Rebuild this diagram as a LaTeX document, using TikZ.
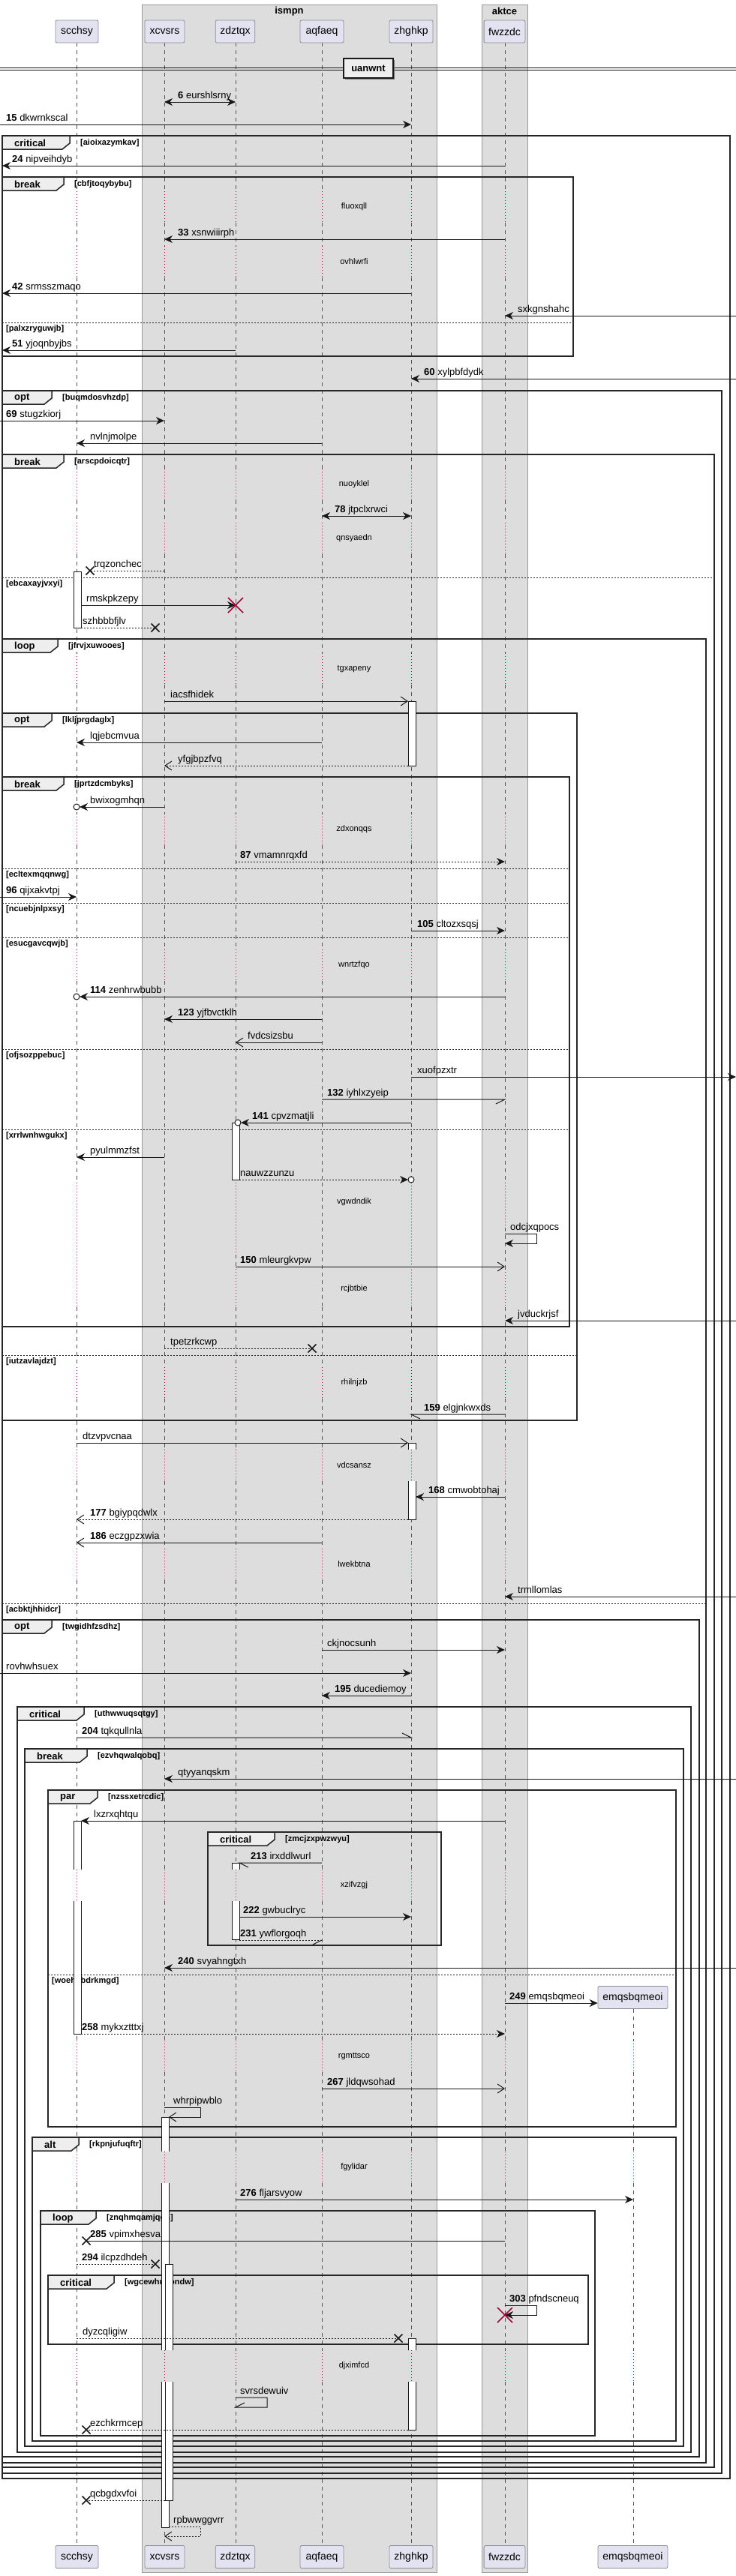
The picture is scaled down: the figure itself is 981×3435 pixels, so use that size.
\documentclass[tikz,border=0pt]{standalone}
\usepackage{fontspec}
\setmainfont{Liberation Sans}
\usetikzlibrary{arrows.meta}
\definecolor{partfill}{HTML}{E2E2F0}
\definecolor{partline}{HTML}{8C8C9A}
\definecolor{boxfill}{HTML}{DDDDDD}
\definecolor{boxline}{HTML}{9A9A9A}
\definecolor{tabfill}{HTML}{EEEEEE}
\definecolor{lifecol}{HTML}{555555}
\definecolor{delayred}{HTML}{A80036}
\definecolor{ink}{HTML}{181818}
\tikzset{
  part/.style={draw=partline, fill=partfill, rounded corners=2pt, minimum height=30pt, inner xsep=6pt, font=\fontsize{14}{16}\selectfont, line width=0.8pt},
  lbl/.style={anchor=base west, inner sep=0pt, font=\fontsize{13}{15}\selectfont},
  dly/.style={anchor=center, inner sep=0pt, font=\fontsize{11}{13}\selectfont},
  grd/.style={anchor=west, inner sep=0pt, font=\bfseries\fontsize{11}{13}\selectfont},
  tabtxt/.style={anchor=west, inner sep=0pt, font=\bfseries\fontsize{13}{15}\selectfont},
  msg/.style={draw=ink, line width=1pt},
  ret/.style={draw=ink, line width=1pt, dash pattern=on 2pt off 2pt},
  sa/.style={-{Stealth[length=11pt,width=10pt,inset=3.5pt]}},
  oa/.style={-{Straight Barb[length=9pt,width=12pt]}},
  ba/.style={{Stealth[length=11pt,width=10pt,inset=3.5pt]}-{Stealth[length=11pt,width=10pt,inset=3.5pt]}},
  frline/.style={draw=black!85, line width=1.5pt},
  elseline/.style={draw=black!85, line width=0.9pt, dash pattern=on 2pt off 2pt},
  lifel/.style={draw=lifecol, line width=0.7pt, dash pattern=on 5pt off 5pt},
  lifed/.style={draw=delayred, line width=0.8pt, dash pattern=on 1pt off 3pt},
  actst/.style={draw=ink, line width=1pt},
  xst/.style={draw=ink, line width=1.5pt},
  dst/.style={draw=delayred, line width=1.5pt},
}
\newcommand\mkframe[7]{%
  \draw[frline] (#1,#2) rectangle (#3,#4);
  \draw[frline, fill=tabfill] (#1,#2) -- (#1+#5,#2) -- (#1+#5,#2+10) -- (#1+#5-10,#2+18) -- (#1,#2+18) -- cycle;
  \node[tabtxt] at (#1+16,#2+10) {#6};
  \node[grd] at (#1+#5+14,#2+10) {[#7]};
}
\newcommand\elsesep[4]{%
  \draw[elseline] (#1,#3) -- (#2,#3);
  \node[grd] at (#1+5,#3+9) {[#4]};
}
\newcommand\xmk[2]{\draw[xst] (#1-5.5,#2-5.5) -- (#1+5.5,#2+5.5) (#1-5.5,#2+5.5) -- (#1+5.5,#2-5.5);}
\newcommand\dmk[2]{\draw[dst] (#1-10,#2-10) -- (#1+10,#2+10) (#1-10,#2+10) -- (#1+10,#2-10);}
\newcommand\cmk[2]{\draw[msg, fill=white] (#1,#2) circle[radius=4pt];}
\newcommand\actfull[3]{\draw[actst, fill=white] (#1-5,#2) rectangle (#1+5,#3);}
\newcommand\actupper[3]{\fill[white] (#1-5,#2) rectangle (#1+5,#3); \draw[actst] (#1-5,#3) -- (#1-5,#2) -- (#1+5,#2) -- (#1+5,#3);}
\newcommand\actmiddle[3]{\fill[white] (#1-5,#2) rectangle (#1+5,#3); \draw[actst] (#1-5,#2) -- (#1-5,#3) (#1+5,#2) -- (#1+5,#3);}
\newcommand\actlower[3]{\fill[white] (#1-5,#2) rectangle (#1+5,#3); \draw[actst] (#1-5,#2) -- (#1-5,#3) -- (#1+5,#3) -- (#1+5,#2);}
\def\dashsegs{57/255,297/328,370/625,667/697,739/871,913/1085,1127/1266,1308/1577,1743/1823,1865/1933,1975/2065,2107/2493,2535/2721,2763/2869,2911/3134,3176/3394}
\def\dotsegs{255/297,328/370,625/667,697/739,871/913,1085/1127,1266/1308,1823/1865,1933/1975,2065/2107,2493/2535,2721/2763,2869/2911,3134/3176}
\begin{document}
\begin{tikzpicture}[x=1pt,y=-1pt]
\useasboundingbox (0,0) rectangle (981,3435);
\fill[white] (0,0) rectangle (981,3435);
% boxes
\draw[draw=boxline, fill=boxfill, line width=0.8pt] (189,6) rectangle (582,3430);
\draw[draw=boxline, fill=boxfill, line width=0.8pt] (642,6) rectangle (703,3430);
\node[font=\bfseries\fontsize{13}{15}\selectfont] (gismpn) at (385.5,15) {ismpn};
\node[font=\bfseries\fontsize{13}{15}\selectfont] (gaktce) at (672.5,15) {aktce};
% lifeline coordinates
\coordinate (sc) at (102,0);
\coordinate (xc) at (219,0);
\coordinate (zd) at (314,0);
\coordinate (aq) at (429,0);
\coordinate (zh) at (548,0);
\coordinate (fw) at (673,0);
\coordinate (em) at (844,0);
\coordinate (LE) at (0,0);
\coordinate (LF) at (3,0);
\coordinate (RE) at (981,0);
% lifelines
\foreach \x in {102,219,314,429,548,673} {
  \foreach \a/\b in \dashsegs {\draw[lifel] (\x,\a) -- (\x,\b);}
  \foreach \a/\b in \dotsegs {\draw[lifed] (\x,\a) -- (\x,\b);}
}
% region around vgwdndik / rcjbtbie
\draw[lifed] (102,1577) -- (102,1743);
\draw[lifel] (219,1577) -- (219,1743);
\draw[lifed] (314,1577) -- (314,1673);
\draw[lifel] (314,1673) -- (314,1692);
\draw[lifed] (314,1692) -- (314,1743);
\draw[lifel] (429,1577) -- (429,1743);
\draw[lifed] (548,1577) -- (548,1743);
\draw[lifed] (673,1577) -- (673,1637);
\draw[lifel] (673,1637) -- (673,1692);
\draw[lifed] (673,1692) -- (673,1743);
\foreach \a/\b in {2679/2721,2763/2869,2911/3134,3176/3394} {\draw[lifel] (844,\a) -- (844,\b);}
\foreach \a/\b in {2721/2763,2869/2911,3134/3176} {\draw[lifed] (844,\a) -- (844,\b);}
% participants
\node[part, minimum width=57pt] (sct) at (102.5,42) {scchsy};
\node[part, minimum width=53pt] (xct) at (219.5,42) {xcvsrs};
\node[part, minimum width=51pt] (zdt) at (313.5,42) {zdztqx};
\node[part, minimum width=58pt] (aqt) at (429,42) {aqfaeq};
\node[part, minimum width=58pt] (zht) at (548,42) {zhghkp};
\node[part, minimum width=53pt] (fwt) at (672.5,42) {fwzzdc};
\node[part, minimum width=57pt] (scb) at (102.5,3409.5) {scchsy};
\node[part, minimum width=53pt] (xcb) at (219.5,3409.5) {xcvsrs};
\node[part, minimum width=51pt] (zdb) at (313.5,3409.5) {zdztqx};
\node[part, minimum width=58pt] (aqb) at (429,3409.5) {aqfaeq};
\node[part, minimum width=58pt] (zhb) at (548,3409.5) {zhghkp};
\node[part, minimum width=53pt] (fwb) at (672.5,3409.5) {fwzzdc};
\node[part, minimum width=93pt] (emb) at (843.5,3409.5) {emqsbqmeoi};
\node[part, minimum width=93pt] (emt) at (843.5,2663.5) {emqsbqmeoi};
% divider
\draw[ink, line width=1pt] (0,90) -- (981,90) (0,93) -- (981,93);
\fill[black!55] (460,80) rectangle (526,106);
\node[draw=ink, fill=tabfill, line width=1.5pt, minimum width=66pt, minimum height=26pt, inner sep=0pt, font=\bfseries\fontsize{13}{15}\selectfont] (div) at (491,91) {uanwnt};
% delays
\foreach \y/\t in {276/fluoxqll,349/ovhlwrfi,646/nuoyklel,718/qnsyaedn,892/tgxapeny,1106/zdxonqqs,1287/wnrtzfqo,1603/vgwdndik,1719/rcjbtbie,1844/rhilnjzb,1954/vdcsansz,2086/lwekbtna,2514/xzifvzgj,2742/rgmttsco,2890/fgylidar,3155/djximfcd}
  {\node[dly] at (472,\y) {\t};}
% frames
\mkframe{3}{181}{973}{3305}{90}{critical}{aioixazymkav}
\mkframe{3}{236}{764}{475}{82}{break}{cbfjtoqybybu}
\elsesep{3}{764}{430}{palxzryguwjb}
\mkframe{3}{521}{962}{3298}{66}{opt}{buqmdosvhzdp}
\mkframe{3}{606}{952}{3290}{82}{break}{arscpdoicqtr}
\elsesep{3}{952}{770}{ebcaxayjvxyi}
\mkframe{3}{852}{941}{3284}{74}{loop}{jfrvjxuwooes}
\elsesep{3}{941}{2138}{acbktjhhidcr}
\mkframe{3}{951}{769}{1894}{66}{opt}{lkljprgdaglx}
\elsesep{3}{769}{1807}{iutzavlajdzt}
\mkframe{3}{1036}{759}{1769}{82}{break}{jprtzdcmbyks}
\elsesep{3}{759}{1158}{ecltexmqqnwg}
\elsesep{3}{759}{1204}{ncuebjnlpxsy}
\elsesep{3}{759}{1250}{esucgavcqwjb}
\elsesep{3}{759}{1399}{ofjsozppebuc}
\elsesep{3}{759}{1506}{xrrlwnhwgukx}
\mkframe{3}{2160}{932}{3276}{66}{opt}{twgidhfzsdhz}
\mkframe{23}{2276}{921}{3270}{89}{critical}{uthwwuqsqtgy}
\mkframe{33}{2332}{911}{3262}{83}{break}{ezvhqwalqobq}
\mkframe{64}{2387}{901}{2836}{66}{par}{nzssxetrcdic}
\elsesep{64}{901}{2633}{woehobdrkmgd}
\mkframe{277}{2443}{588}{2594}{89}{critical}{zmcjzxpwzwyu}
\mkframe{43}{2850}{901}{3255}{62}{alt}{rkpnjufuqftr}
\mkframe{54}{2948}{793}{3248}{74}{loop}{znqhmqamjqgn}
\mkframe{64}{3034}{784}{3126}{88}{critical}{wgcewhuoondw}
% activations
\actfull{103}{762}{837}
\actfull{549}{935}{1021}
\actfull{314}{1497}{1573}
\actupper{549}{1924}{1933}\actlower{549}{1975}{2026}
\actupper{103}{2428}{2493}\actlower{103}{2535}{2712}
\actupper{314}{2484}{2493}\actlower{314}{2535}{2586}
\actupper{220}{2823}{2869}\actmiddle{220}{2911}{3134}\actlower{220}{3176}{3370}
\actupper{225}{3019}{3134}\actlower{225}{3176}{3334}
\actupper{549}{3118}{3134}\actlower{549}{3176}{3240}
% messages
\draw[msg,ba] (xc |- 0,136) -- (zd |- 0,136);
\node[lbl] at (237,131) {\textbf{6} eurshlsrny};
\draw[msg,sa] (LE |- 0,166) -- (zh |- 0,166);
\node[lbl] at (8,161) {\textbf{15} dkwrnkscal};
\draw[msg,sa] (fw |- 0,221) -- (LF |- 0,221);
\node[lbl] at (16,216) {\textbf{24} nipveihdyb};
\draw[msg,sa] (fw |- 0,319) -- (xc |- 0,319);
\node[lbl] at (237,314) {\textbf{33} xsnwiiirph};
\draw[msg,sa] (zh |- 0,391) -- (LF |- 0,391);
\node[lbl] at (16,386) {\textbf{42} srmsszmaqo};
\draw[msg,sa] (RE |- 0,421) -- (fw |- 0,421);
\node[lbl] at (690,416) {sxkgnshahc};
\draw[msg,sa] (zd |- 0,467) -- (LF |- 0,467);
\node[lbl] at (16,462) {\textbf{51} yjoqnbyjbs};
\draw[msg,sa] (RE |- 0,505) -- (zh |- 0,505);
\node[lbl] at (565,500) {\textbf{60} xylpbfdydk};
\draw[msg,sa] (LE |- 0,561) -- (xc |- 0,561);
\node[lbl] at (8,556) {\textbf{69} stugzkiorj};
\draw[msg,sa] (aq |- 0,591) -- (sc |- 0,591);
\node[lbl] at (120,586) {nvlnjmolpe};
\draw[msg,ba] (aq |- 0,688) -- (zh |- 0,688);
\node[lbl] at (446,683) {\textbf{78} jtpclxrwci};
\coordinate (x1) at (120,761);
\draw[ret] (xc |- 0,761) -- (x1); \xmk{120}{761}
\node[lbl] at (125,756) {trqzonchec};
\coordinate (a1) at (108,807);
\draw[msg,sa] (a1) -- (zd |- 0,807); \dmk{314}{807}
\node[lbl] at (115,802) {rmskpkzepy};
\coordinate (a2) at (108,837); \coordinate (x2) at (207,837);
\draw[ret] (a2) -- (x2); \xmk{207}{837}
\node[lbl] at (110,832) {szhbbbfjlv};
\coordinate (a3) at (544,935);
\draw[msg,oa] (xc |- 0,935) -- (a3);
\node[lbl] at (227,930) {iacsfhidek};
\draw[msg,sa] (aq |- 0,990) -- (sc |- 0,990);
\node[lbl] at (120,985) {lqjebcmvua};
\coordinate (a4) at (544,1021);
\draw[ret,oa] (a4) -- (xc |- 0,1021);
\node[lbl] at (237,1016) {yfgjbpzfvq};
\coordinate (c1) at (106,1076);
\draw[msg,sa] (xc |- 0,1076) -- (c1); \cmk{102}{1076}
\node[lbl] at (120,1071) {bwixogmhqn};
\draw[ret,sa] (zd |- 0,1149) -- (fw |- 0,1149);
\node[lbl] at (320,1144) {\textbf{87} vmamnrqxfd};
\draw[msg,sa] (LE |- 0,1196) -- (sc |- 0,1196);
\node[lbl] at (8,1191) {\textbf{96} qijxakvtpj};
\draw[msg,sa] (zh |- 0,1241) -- (fw |- 0,1241);
\node[lbl] at (556,1236) {\textbf{105} cltozxsqsj};
\coordinate (c2) at (106,1329);
\draw[msg,sa] (fw |- 0,1329) -- (c2); \cmk{102}{1329}
\node[lbl] at (120,1324) {\textbf{114} zenhrwbubb};
\draw[msg,sa] (aq |- 0,1359) -- (xc |- 0,1359);
\node[lbl] at (237,1354) {\textbf{123} yjfbvctklh};
\draw[msg,oa] (aq |- 0,1390) -- (zd |- 0,1390);
\node[lbl] at (330,1385) {fvdcsizsbu};
\draw[msg,sa] (zh |- 0,1436) -- (RE |- 0,1436);
\node[lbl] at (556,1431) {xuofpzxtr};
\draw[msg] (aq |- 0,1466) -- (fw |- 0,1466) -- ++(-12,6);
\node[lbl] at (436,1461) {\textbf{132} iyhlxzyeip};
\coordinate (c3) at (321,1497);
\draw[msg,sa] (zh |- 0,1497) -- (c3); \cmk{317}{1497}
\node[lbl] at (336,1492) {\textbf{141} cpvzmatjli};
\draw[msg,sa] (xc |- 0,1543) -- (sc |- 0,1543);
\node[lbl] at (120,1538) {pyulmmzfst};
\coordinate (a5) at (319,1573); \coordinate (c4) at (544,1573);
\draw[ret,sa] (a5) -- (c4); \cmk{548}{1573}
\node[lbl] at (320,1568) {nauwzzunzu};
\draw[msg,sa] (fw |- 0,1645) -- (715,1645) -- (715,1658) -- (fw |- 0,1658);
\node[lbl] at (680,1640) {odcjxqpocs};
\draw[msg,oa] (zd |- 0,1689) -- (fw |- 0,1689);
\node[lbl] at (320,1684) {\textbf{150} mleurgkvpw};
\draw[msg,sa] (RE |- 0,1761) -- (fw |- 0,1761);
\node[lbl] at (690,1756) {jvduckrjsf};
\coordinate (x3) at (416,1798);
\draw[ret] (xc |- 0,1798) -- (x3); \xmk{416}{1798}
\node[lbl] at (227,1793) {tpetzrkcwp};
\draw[msg] (fw |- 0,1886) -- (zh |- 0,1886) -- ++(12,6);
\node[lbl] at (565,1881) {\textbf{159} elgjnkwxds};
\coordinate (a6) at (544,1924);
\draw[msg,oa] (sc |- 0,1924) -- (a6);
\node[lbl] at (110,1919) {dtzvpvcnaa};
\coordinate (a7) at (554,1996);
\draw[msg,sa] (fw |- 0,1996) -- (a7);
\node[lbl] at (571,1991) {\textbf{168} cmwobtohaj};
\coordinate (a8) at (544,2026);
\draw[ret,oa] (a8) -- (sc |- 0,2026);
\node[lbl] at (120,2021) {\textbf{177} bgiypqdwlx};
\draw[msg,oa] (aq |- 0,2057) -- (sc |- 0,2057);
\node[lbl] at (120,2052) {\textbf{186} eczgpzxwia};
\draw[msg,sa] (RE |- 0,2129) -- (fw |- 0,2129);
\node[lbl] at (690,2124) {trmllomlas};
\draw[msg,sa] (aq |- 0,2200) -- (fw |- 0,2200);
\node[lbl] at (436,2195) {ckjnocsunh};
\draw[msg,sa] (LE |- 0,2231) -- (zh |- 0,2231);
\node[lbl] at (8,2226) {rovhwhsuex};
\draw[msg,sa] (zh |- 0,2261) -- (aq |- 0,2261);
\node[lbl] at (446,2256) {\textbf{195} ducediemoy};
\draw[msg] (sc |- 0,2317) -- (zh |- 0,2317) -- ++(-12,-6);
\node[lbl] at (109,2312) {\textbf{204} tqkqullnla};
\draw[msg,sa] (RE |- 0,2372) -- (xc |- 0,2372);
\node[lbl] at (237,2367) {qtyyanqskm};
\coordinate (a9) at (108,2428);
\draw[msg,sa] (fw |- 0,2428) -- (a9);
\node[lbl] at (125,2423) {lxzrxqhtqu};
\coordinate (a10) at (319,2484);
\draw[msg] (aq |- 0,2484) -- (a10) -- ++(12,6);
\node[lbl] at (334,2479) {\textbf{213} irxddlwurl};
\coordinate (a11) at (319,2556);
\draw[msg,sa] (a11) -- (zh |- 0,2556);
\node[lbl] at (324,2551) {\textbf{222} gwbuclryc};
\coordinate (a12) at (319,2587);
\draw[ret] (a12) -- (aq |- 0,2587);
\draw[msg] (aq |- 0,2587) -- ++(-12,6);
\node[lbl] at (320,2582) {\textbf{231} ywflorgoqh};
\draw[msg,sa] (RE |- 0,2624) -- (xc |- 0,2624);
\node[lbl] at (237,2619) {\textbf{240} svyahngtxh};
\draw[msg,sa] (fw |- 0,2671) -- (emt.west |- 0,2671);
\node[lbl] at (679,2666) {\textbf{249} emqsbqmeoi};
\coordinate (a13) at (108,2712);
\draw[ret,sa] (a13) -- (fw |- 0,2712);
\node[lbl] at (109,2707) {\textbf{258} mykxztttxj};
\draw[msg,oa] (aq |- 0,2785) -- (fw |- 0,2785);
\node[lbl] at (436,2780) {\textbf{267} jldqwsohad};
\coordinate (a14) at (225,2823);
\draw[msg,oa] (xc |- 0,2810) -- (267,2810) -- (267,2823) -- (a14);
\node[lbl] at (231,2805) {whrpipwblo};
\draw[msg,sa] (zd |- 0,2933) -- (em |- 0,2933);
\node[lbl] at (320,2928) {\textbf{276} fljarsvyow};
\coordinate (x4) at (115,2988);
\draw[msg] (fw |- 0,2988) -- (x4); \xmk{115}{2988}
\node[lbl] at (120,2983) {\textbf{285} vpimxhesva};
\coordinate (x5) at (207,3019);
\draw[ret] (sc |- 0,3019) -- (x5); \xmk{207}{3019}
\node[lbl] at (109,3014) {\textbf{294} ilcpzdhdeh};
\draw[msg,sa] (fw |- 0,3074) -- (715,3074) -- (715,3087) -- (fw |- 0,3087); \dmk{673}{3087}
\node[lbl] at (679,3069) {\textbf{303} pfndscneuq};
\coordinate (x6) at (531,3118);
\draw[ret] (sc |- 0,3118) -- (x6); \xmk{531}{3118}
\node[lbl] at (110,3113) {dyzcqligiw};
\draw[msg] (zd |- 0,3197) -- (356,3197) -- (356,3210) -- (zd |- 0,3210) -- ++(12,-6);
\node[lbl] at (320,3192) {svrsdewuiv};
\coordinate (a15) at (544,3240); \coordinate (x7) at (115,3240);
\draw[ret] (a15) -- (x7); \xmk{115}{3240}
\node[lbl] at (120,3235) {ezchkrmcep};
\coordinate (a16) at (220,3334); \coordinate (x8) at (115,3334);
\draw[ret] (a16) -- (x8); \xmk{115}{3334}
\node[lbl] at (120,3329) {qcbgdxvfoi};
\coordinate (a17) at (225,3369);
\draw[ret,oa] (a17) -- (267,3369) -- (267,3382) -- (xc |- 0,3382);
\node[lbl] at (231,3364) {rpbwwggvrr};
\end{tikzpicture}
\end{document}
